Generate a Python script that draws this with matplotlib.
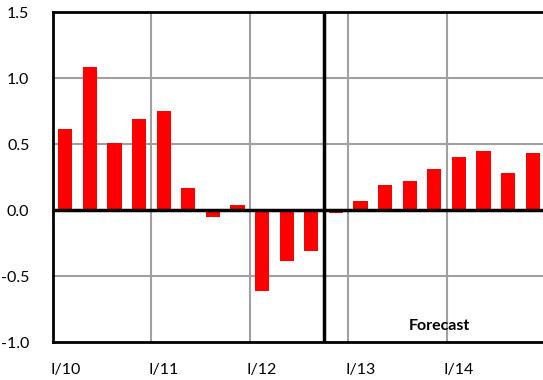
# Quarterly bars, I/10 - IV/14, with the forecast starting at IV/12

import numpy as np
import matplotlib.pyplot as plt

quarters = [f"{q}/{y}" for y in range(10, 15) for q in ["I", "II", "III", "IV"]]
values = [0.61, 1.08, 0.505, 0.69, 0.75, 0.17, -0.05, 0.035,
          -0.61, -0.385, -0.31, -0.02, 0.065, 0.19, 0.22, 0.31,
          0.40, 0.445, 0.28, 0.43]
tick_labels = ["I/10", "I/11", "I/12", "I/13", "I/14"]
forecast_start = 11  # IV/12

plt.rcParams['font.family'] = ['Lato', 'DejaVu Sans']

fig = plt.figure(figsize=(5.43, 3.8), dpi=100)
ax = fig.add_axes([53 / 543, 38 / 380, 492 / 543, 330 / 380])

x = np.arange(len(quarters))
ax.bar(x, values, width=0.57, color="#ff0000", zorder=3)

ax.set_xlim(-0.5, len(quarters) - 0.5)
ax.set_ylim(-1.0, 1.5)
ax.set_yticks(np.arange(-1.0, 1.51, 0.5))
ax.set_yticklabels([f"{v:.1f}" for v in np.arange(-1.0, 1.51, 0.5)])

# gridlines between categories, one per year
for b in np.arange(3.5, len(quarters), 4):
    ax.axvline(b, color="#a0a0a0", lw=1.5, zorder=1)
for v in [-0.5, 0.5, 1.0]:
    ax.axhline(v, color="#a0a0a0", lw=1.5, zorder=1)

ax.axhline(0, color="black", lw=2.5, zorder=4)
ax.axvline(forecast_start - 0.5, color="black", lw=2.5, zorder=4)

ax.set_xticks([quarters.index(t) for t in tick_labels])
ax.set_xticklabels(tick_labels)
ax.tick_params(axis='both', length=0, labelsize=11.5)
ax.tick_params(axis='y', pad=17)
ax.tick_params(axis='x', pad=15)

for side in ["left", "top", "bottom"]:
    ax.spines[side].set_linewidth(2)
    ax.spines[side].set_color("black")
ax.spines["right"].set_visible(False)

ax.text(15.2, -0.88, "Forecast", fontsize=11.5, fontweight="bold", ha="center", va="center", zorder=5)

fig.savefig("out.png", dpi=100)
